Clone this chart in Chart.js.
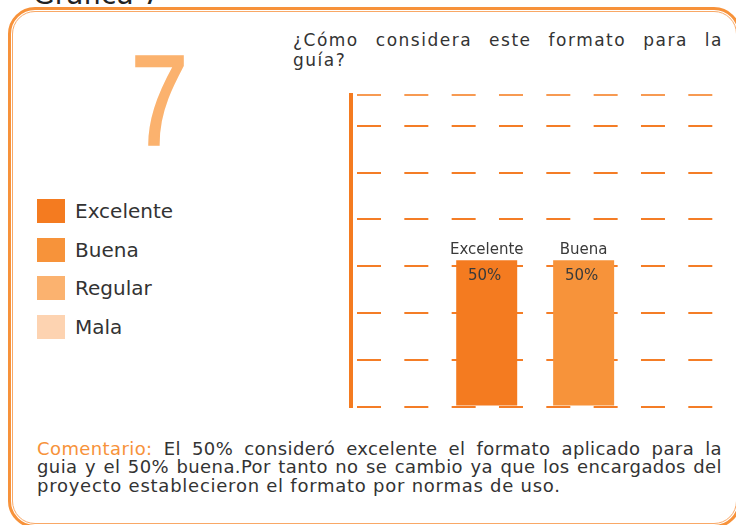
<!DOCTYPE html>
<html lang="es">
<head>
<meta charset="utf-8">
<script src="https://cdn.jsdelivr.net/npm/chart.js@4/dist/chart.umd.min.js"></script>
<style>
  html, body { margin: 0; padding: 0; background: #fff; }
  body {
    width: 736px; height: 525px; position: relative; overflow: hidden;
    font-family: "DejaVu Sans", sans-serif; color: #333;
  }
  .frame-outer {
    position: absolute; left: 8px; top: 7px; width: 733px; height: 521px;
    box-sizing: border-box; border: 3px solid #F7923A; border-radius: 27px;
  }
  .frame-inner {
    position: absolute; left: 12px; top: 11px; width: 725px; height: 513px;
    box-sizing: border-box; border: 1.5px solid #F9A866; border-radius: 23px;
  }
  .title {
    position: absolute; left: 33px; top: -19px; font-size: 28px; line-height: 28px;
    color: #222; white-space: nowrap;
  }
  .big-number {
    position: absolute; left: 131px; top: 37px; font-size: 128px; line-height: 128px;
    font-family: "Liberation Sans Narrow", "Liberation Sans", sans-serif; color: #FBB26E;
    transform: scaleX(0.8); transform-origin: 0 0; -webkit-text-stroke: 2.5px #FBB26E;
  }
  .question {
    position: absolute; left: 293px; top: 31px; width: 430px;
    font-size: 17px; line-height: 19.5px; letter-spacing: 1.5px; color: #333;
  }
  .justified { text-align: justify; text-align-last: justify; }
  .legend { position: absolute; left: 37px; top: 199px; }
  .legend-item { position: absolute; left: 0; height: 24px; white-space: nowrap; }
  .legend-box { position: absolute; left: 0; top: 0; width: 28px; height: 24px; }
  .legend-text { position: absolute; left: 38px; top: 0; font-size: 20px; line-height: 24px; color: #333; }
  .comment {
    position: absolute; left: 37px; top: 440px; width: 685px;
    font-size: 18px; line-height: 18.3px; letter-spacing: 0.4px; color: #333;
  }
  .comment .last { letter-spacing: 0.75px; }
  .comment .lead { color: #F7923A; }
  #chart { position: absolute; left: 0; top: 0; }
</style>
</head>
<body>
<div class="title">Gráfica 7</div>
<div class="frame-outer"></div>
<div class="frame-inner"></div>
<div class="big-number">7</div>
<div class="question">
  <div class="justified">¿Cómo considera este formato para la</div>
  <div>guía?</div>
</div>
<div class="legend" id="legend"></div>
<div class="comment">
  <div class="justified"><span class="lead">Comentario:</span> El 50% consideró excelente el formato aplicado para la</div>
  <div class="justified">guia y el 50% buena.Por tanto no se cambio ya que los encargados del</div>
  <div class="last">proyecto establecieron el formato por normas de uso.</div>
</div>
<canvas id="chart" width="736" height="525"></canvas>
<script>
// Survey answers: rating categories and share of respondents (%)
const categories = ['Excelente', 'Buena', 'Regular', 'Mala'];
const percentages = [50, 50, 0, 0];
const barColors = ['#F47B20', '#F7933A', '#FBB26F', '#FDD3B1'];
// Horizontal guide lines on the value axis
const gridValues = [0, 16, 32, 48, 64, 80, 96, 106.5];

// Legend on the left, one row per category
const legendEl = document.getElementById('legend');
categories.forEach((name, i) => {
  const item = document.createElement('div');
  item.className = 'legend-item';
  item.style.top = (i * 38.5) + 'px';
  const box = document.createElement('div');
  box.className = 'legend-box';
  box.style.background = barColors[i];
  const text = document.createElement('div');
  text.className = 'legend-text';
  text.textContent = name;
  item.appendChild(box);
  item.appendChild(text);
  legendEl.appendChild(item);
});

// Category name above each bar, percentage just inside its top
const barLabels = {
  id: 'barLabels',
  afterDatasetsDraw(chart) {
    const { ctx } = chart;
    const meta = chart.getDatasetMeta(0);
    ctx.save();
    ctx.fillStyle = '#3a3a3a';
    ctx.textAlign = 'center';
    meta.data.forEach((bar, i) => {
      if (!percentages[i]) return;
      ctx.font = '15px "DejaVu Sans"';
      ctx.textBaseline = 'alphabetic';
      ctx.fillText(categories[i], bar.x, bar.y - 6);
      ctx.textBaseline = 'middle';
      ctx.fillText(percentages[i] + '%', bar.x - 2, bar.y + 16);
    });
    ctx.restore();
  }
};

const topValue = gridValues[gridValues.length - 1];

new Chart(document.getElementById('chart'), {
  type: 'bar',
  data: {
    datasets: [{
      data: categories.map((c, i) => ({ x: i, y: percentages[i] })),
      backgroundColor: barColors,
      borderWidth: 0,
      inflateAmount: 0,
      barThickness: 61
    }]
  },
  options: {
    responsive: false,
    animation: false,
    devicePixelRatio: 1,
    layout: { padding: { left: 351, right: 21.5, top: 95, bottom: 118.5 } },
    plugins: { legend: { display: false }, tooltip: { enabled: false } },
    scales: {
      x: { type: 'linear', min: -1.4, max: 2.35, offset: false, display: false },
      y: {
        min: 0,
        max: topValue,
        afterBuildTicks: (scale) => { scale.ticks = gridValues.map(v => ({ value: v })); },
        ticks: { display: false },
        grid: {
          drawTicks: false,
          lineWidth: 2,
          color: (c) => (c.tick && c.tick.value === topValue) ? '#F79A52' : '#F47D26'
        },
        border: { display: true, color: '#F47B20', width: 4, dash: [24, 23.33], dashOffset: 43.33 }
      }
    }
  },
  plugins: [barLabels]
});
</script>
</body>
</html>
